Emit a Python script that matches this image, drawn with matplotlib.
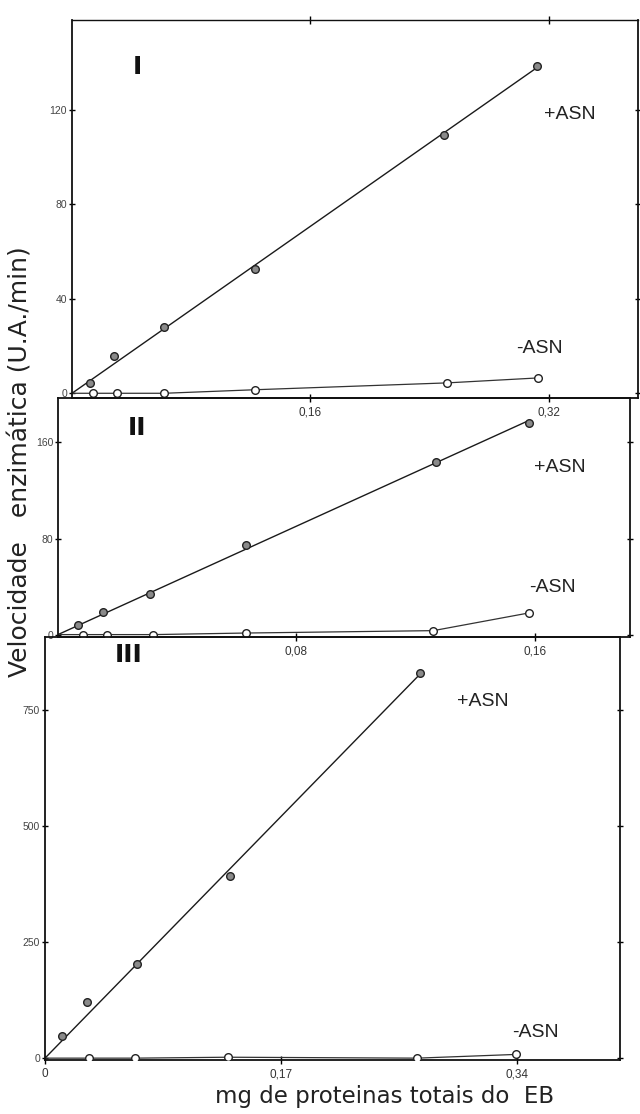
import matplotlib.pyplot as plt
import numpy as np

plt.rcParams['font.family'] = ['Liberation Sans', 'DejaVu Sans']

# Painel I
prot_I_com = [0.012, 0.028, 0.062, 0.123, 0.25, 0.312]
vel_I_com = [4.5, 15.8, 27.9, 52.8, 109.5, 138.7]
prot_I_sem = [0, 0.014, 0.03, 0.062, 0.123, 0.252, 0.313]
vel_I_sem = [0, 0, 0, 0, 1.5, 4.4, 6.5]

# Painel II
prot_II_com = [0.0066, 0.015, 0.031, 0.063, 0.127, 0.158]
vel_II_com = [8, 19, 34, 75, 144, 176]
prot_II_sem = [0, 0.0084, 0.0164, 0.032, 0.063, 0.126, 0.158]
vel_II_sem = [0, 0, 0, 0, 1.3, 3.3, 18]

# Painel III
prot_III_com = [0.0125, 0.03, 0.066, 0.133, 0.27]
vel_III_com = [47, 122, 204, 393, 831]
prot_III_sem = [0, 0.032, 0.065, 0.132, 0.268, 0.339]
vel_III_sem = [0, 0, 0, 2, 0, 8]

W, H = 640, 1114
fig = plt.figure(figsize=(W / 100, H / 100), dpi=100)


def px_axes(left, right, top, bottom):
    return fig.add_axes([left / W, 1 - bottom / H, (right - left) / W, (bottom - top) / H])


def painel(ax, xc, yc, xs, ys, xlim, ylim, xticks, xlabels, yticks, roman, roman_xy,
           mais_xy, menos_xy):
    # reta pela origem ajustada aos pontos com ASN
    xc_a = np.array(xc)
    yc_a = np.array(yc)
    k = (xc_a * yc_a).sum() / (xc_a ** 2).sum()
    ax.plot([0, xc_a.max()], [0, k * xc_a.max()], color='#1a1a1a', lw=1.0, zorder=2)
    ax.plot(xc, yc, 'o', ms=5.5, mfc='#8a8a8a', mec='#222222', mew=1.0, zorder=3)
    ax.plot(xs, ys, '-', color='#333333', lw=0.9, zorder=2)
    ax.plot(xs[1:], ys[1:], 'o', ms=5.5, mfc='white', mec='#222222', mew=1.0, zorder=3)

    ax.set_xlim(*xlim)
    ax.set_ylim(*ylim)
    ax.set_xticks(xticks)
    ax.set_xticklabels(xlabels)
    ax.set_yticks(yticks)
    ax.set_yticklabels([str(v) for v in yticks])
    ax.tick_params(axis='x', direction='inout', length=6, width=1, pad=3,
                   labelsize=8.5, labelcolor='#333333')
    ax.tick_params(axis='y', direction='inout', length=5, width=1, pad=1,
                   labelsize=7.5, labelcolor='#444444', right=True)
    for s in ax.spines.values():
        s.set_linewidth(1.3)
        s.set_color('#111111')
    ax.patch.set_alpha(0)

    ax.text(*roman_xy, roman, fontsize=18, ha='center', va='center', color='#111111',
            family='DejaVu Sans Condensed', fontweight='bold')
    ax.text(*mais_xy, '+ASN', fontsize=14, ha='center', va='center', color='#222222')
    ax.text(*menos_xy, '-ASN', fontsize=14, ha='center', va='center', color='#222222')


ax1 = px_axes(72, 638, 20, 398)
painel(ax1, prot_I_com, vel_I_com, prot_I_sem, vel_I_sem,
       (0, 0.38), (-2, 158), [0.16, 0.32], ['0,16', '0,32'], [0, 40, 80, 120],
       'I', (0.044, 138), (0.334, 118), (0.314, 19))
ax1.tick_params(axis='x', top=True)
ax1.spines['top'].set_linewidth(1.0)

ax2 = px_axes(58, 630, 398, 637)
painel(ax2, prot_II_com, vel_II_com, prot_II_sem, vel_II_sem,
       (0, 0.192), (-2, 197), [0.08, 0.16], ['0,08', '0,16'], [0, 80, 160],
       'II', (0.0265, 172), (0.1685, 139), (0.166, 39))

ax3 = px_axes(45, 620, 637, 1060)
painel(ax3, prot_III_com, vel_III_com, prot_III_sem, vel_III_sem,
       (0, 0.414), (-4, 908), [0, 0.17, 0.34], ['0', '0,17', '0,34'], [0, 250, 500, 750],
       'III', (0.060, 869), (0.315, 768), (0.353, 56))

fig.text(21 / W, 1 - 462 / H, 'Velocidade   enzimática (U.A./min)', rotation=90,
         ha='center', va='center', fontsize=18, color='#222222', family='DejaVu Sans')
fig.text(385 / W, 1 - 1097 / H, 'mg de proteinas totais do  EB', ha='center', va='center',
         fontsize=16.5, color='#222222', family='DejaVu Sans')

fig.savefig('out.png', dpi=100)
